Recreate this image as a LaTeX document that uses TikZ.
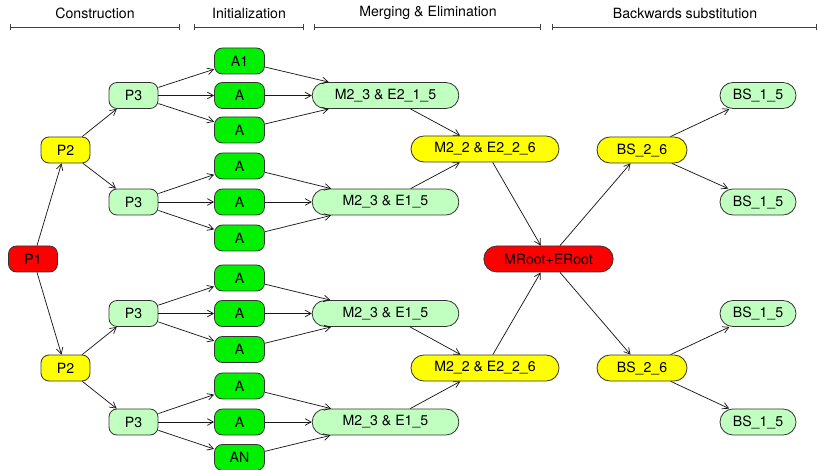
\documentclass[tikz,border=0pt]{standalone}
\usepackage{fontspec}
\setmainfont{TeX Gyre Heros}
\usetikzlibrary{arrows.meta}
\definecolor{palegreen}{RGB}{192,255,192}
\definecolor{fullgreen}{RGB}{0,240,0}
\definecolor{fullyellow}{RGB}{255,255,0}
\definecolor{fullred}{RGB}{255,0,0}
\tikzset{
  box/.style={draw=black!80, line width=0.6pt, rounded corners=6pt, minimum height=19.5pt, inner sep=0pt,
    font=\fontsize{10.6}{12}\selectfont},
  pill/.style={box, rounded corners=9.7pt},
  edge/.style={-{Straight Barb[length=4.5pt,width=5pt]}, line width=0.55pt, black!90},
  phase/.style={|-|, line width=0.55pt, black!75}
}
\begin{document}
\begin{tikzpicture}[x=0.75pt,y=-0.75pt]
\useasboundingbox (0,0) rectangle (818,470);

% Phases
\node[font=\fontsize{10.6}{12}\selectfont] (tc) at (95,13) {Construction};
\node[font=\fontsize{10.6}{12}\selectfont] (ti) at (249,13) {Initialization};
\node[font=\fontsize{10.6}{12}\selectfont] (tm) at (428,13) {Merging \& Elimination};
\node[font=\fontsize{10.6}{12}\selectfont] (tb) at (685,13) {Backwards substitution};
\coordinate (c0) at (10,27);  \coordinate (c1) at (180,27);
\coordinate (i0) at (194,27); \coordinate (i1) at (304,27);
\coordinate (m0) at (314,27); \coordinate (m1) at (541,27);
\coordinate (b0) at (552,27); \coordinate (b1) at (817,27);
\draw[phase] (c0) -- (c1);
\draw[phase] (i0) -- (i1);
\draw[phase] (m0) -- (m1);
\draw[phase] (b0) -- (b1);

% Construction
\node[box, fill=fullred, minimum width=36.75pt] (p1) at (33,259) {P1};
\node[box, fill=fullyellow, minimum width=36.75pt] (p2a) at (65.5,150) {P2};
\node[box, fill=fullyellow, minimum width=36.75pt] (p2b) at (65.5,368) {P2};
\foreach \n/\y in {a/95.5, b/202, c/313.5, d/422}
  \node[box, fill=palegreen, minimum width=36.75pt] (p3\n) at (133.5,\y) {P3};

% Initialization
\foreach \n/\y/\t in {1/61/A1, 2/95.5/A, 3/130/A, 4/166/A, 5/202/A, 6/238/A,
                      7/278/A, 8/313.5/A, 9/349.5/A, 10/386/A, 11/422/A, 12/457.5/AN}
  \node[box, fill=fullgreen, minimum width=37.5pt] (a\n) at (239.5,\y) {\t};

% Merging & Elimination
\node[pill, fill=palegreen, minimum width=110pt] (mea) at (385.5,95.5) {M2\_3 \& E2\_1\_5};
\node[pill, fill=palegreen, minimum width=110pt] (meb) at (385.5,202) {M2\_3 \& E1\_5};
\node[pill, fill=palegreen, minimum width=110pt] (mec) at (385.5,313.5) {M2\_3 \& E1\_5};
\node[pill, fill=palegreen, minimum width=110pt] (med) at (385.5,422) {M2\_3 \& E1\_5};
\node[pill, fill=fullyellow, minimum width=111pt] (mta) at (485,149) {M2\_2 \& E2\_2\_6};
\node[pill, fill=fullyellow, minimum width=111pt] (mtb) at (485,368) {M2\_2 \& E2\_2\_6};
\node[pill, fill=fullred, minimum width=97pt] (root) at (548.5,259) {MRoot+ERoot};

% Backwards substitution
\node[pill, fill=fullyellow, minimum width=67.5pt] (bsa) at (642,150) {BS\_2\_6};
\node[pill, fill=fullyellow, minimum width=67.5pt] (bsb) at (642,368) {BS\_2\_6};
\node[pill, fill=palegreen, minimum width=57pt] (bs1) at (758,95.5) {BS\_1\_5};
\node[pill, fill=palegreen, minimum width=57pt] (bs2) at (758,202) {BS\_1\_5};
\node[pill, fill=palegreen, minimum width=57pt] (bs3) at (758,313.5) {BS\_1\_5};
\node[pill, fill=palegreen, minimum width=57pt] (bs4) at (758,422) {BS\_1\_5};

% Edges
\draw[edge] (p1) -- (p2a);
\draw[edge] (p1) -- (p2b);
\draw[edge] (p2a) -- (p3a);
\draw[edge] (p2a) -- (p3b);
\draw[edge] (p2b) -- (p3c);
\draw[edge] (p2b) -- (p3d);
\foreach \p/\m/\i/\j/\k in {a/mea/1/2/3, b/meb/4/5/6, c/mec/7/8/9, d/med/10/11/12} {
  \draw[edge] (p3\p) -- (a\i);
  \draw[edge] (p3\p) -- (a\j);
  \draw[edge] (p3\p) -- (a\k);
  \draw[edge] (a\i) -- (\m);
  \draw[edge] (a\j) -- (\m);
  \draw[edge] (a\k) -- (\m);
}
\draw[edge] (mea) -- (mta);
\draw[edge] (meb) -- (mta);
\draw[edge] (mec) -- (mtb);
\draw[edge] (med) -- (mtb);
\draw[edge] (mta) -- (root);
\draw[edge] (mtb) -- (root);
\draw[edge] (root) -- (bsa);
\draw[edge] (root) -- (bsb);
\draw[edge] (bsa) -- (bs1);
\draw[edge] (bsa) -- (bs2);
\draw[edge] (bsb) -- (bs3);
\draw[edge] (bsb) -- (bs4);

\end{tikzpicture}
\end{document}
